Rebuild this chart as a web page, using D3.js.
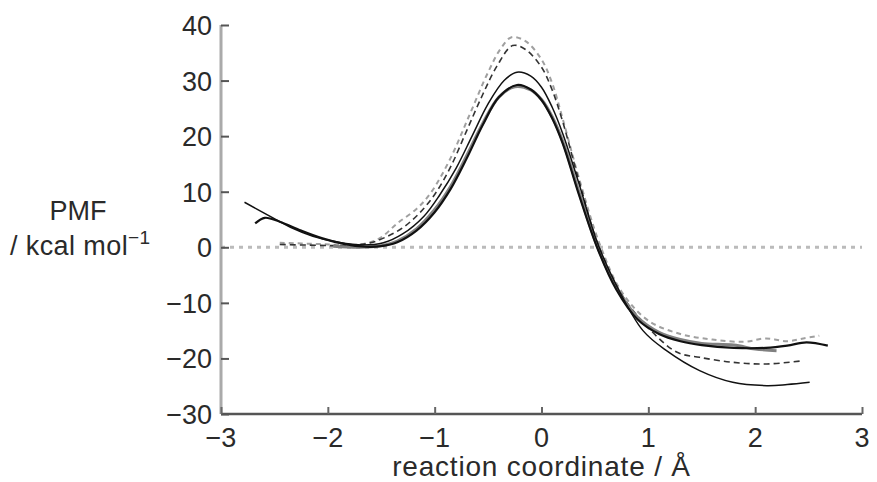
<!DOCTYPE html>
<html>
<head>
<meta charset="utf-8">
<script src="https://cdn.jsdelivr.net/npm/d3@7"></script>
<style>
  body { margin: 0; background: #fff; }
  text { font-family: "Liberation Sans", Arial, sans-serif; fill: #2a2a2a; }
</style>
</head>
<body>
<div id="chart"></div>
<script>
// tick values
const xTicks = [-3, -2, -1, 0, 1, 2, 3];
const yTicks = [-30, -20, -10, 0, 10, 20, 30, 40];

// PMF profiles, [reaction coordinate, PMF]
const grayDash = [[-2.45,0.8],[-2.1,0.6],[-1.8,0.4],[-1.62,0.8],[-1.5,1.8],[-1.35,4.3],[-1.17,6.9],[-1.04,9.7],[-0.86,15.7],[-0.67,24],[-0.5,31.5],[-0.38,35.8],[-0.28,37.8],[-0.15,37.1],[0,33.8],[0.1,29.5],[0.2,23],[0.35,12.5],[0.55,0.3],[0.75,-8],[1.0,-13.2],[1.3,-15.6],[1.6,-16.6],[1.9,-17],[2.1,-16.4],[2.3,-16.9],[2.45,-16.4],[2.6,-15.9]];
const darkDash = [[-2.45,0.5],[-2.2,0.4],[-1.95,0.3],[-1.75,0.4],[-1.6,0.8],[-1.45,1.9],[-1.3,3.5],[-1.15,6],[-1.0,9.5],[-0.85,14.5],[-0.7,21],[-0.55,27.5],[-0.42,32.5],[-0.27,36.3],[-0.15,35.6],[0,32.4],[0.1,28.3],[0.2,22.5],[0.35,12],[0.53,0.5],[0.75,-8.5],[1.0,-14.5],[1.27,-18.9],[1.48,-19.8],[1.79,-20.7],[2.11,-21],[2.45,-20.4]];
const thinSolid = [[-2.78,8.1],[-2.6,6.2],[-2.35,3.6],[-2.14,2.0],[-1.9,0.9],[-1.67,0.4],[-1.48,0.8],[-1.3,2.4],[-1.1,5.6],[-0.95,9.5],[-0.8,14.2],[-0.65,20],[-0.5,25.8],[-0.35,30],[-0.23,31.5],[-0.1,30.8],[0,28.8],[0.1,25.2],[0.2,20.4],[0.35,11.5],[0.52,1],[0.7,-6.8],[0.95,-15],[1.17,-18.6],[1.48,-22.2],[1.79,-24.3],[2.11,-24.9],[2.3,-24.7],[2.51,-24.3]];
const thickGray = [[-1.95,0.2],[-1.7,0.0],[-1.5,0.3],[-1.35,1.1],[-1.17,3.3],[-1.0,6.8],[-0.85,11],[-0.7,16.5],[-0.55,22.3],[-0.4,27],[-0.25,28.9],[-0.1,28.3],[0,26.6],[0.1,23.5],[0.2,19],[0.35,10],[0.52,0.3],[0.7,-7.2],[0.9,-12.6],[1.1,-15.3],[1.3,-16.6],[1.5,-17.3],[1.8,-17.6],[2.0,-18.3],[2.2,-18.6]];
const thickBlack = [[-2.68,4.3],[-2.59,5.3],[-2.45,4.6],[-2.25,3.0],[-2.05,1.6],[-1.85,0.6],[-1.65,0.1],[-1.5,0.2],[-1.35,0.9],[-1.17,3.0],[-1.0,6.3],[-0.85,10.5],[-0.7,16],[-0.55,22],[-0.4,27],[-0.23,29.2],[-0.1,28.4],[0,26.5],[0.1,23.2],[0.2,18.6],[0.35,9.5],[0.52,0],[0.7,-7.6],[0.9,-13],[1.1,-15.6],[1.3,-16.9],[1.5,-17.6],[1.8,-18.1],[2.1,-18.1],[2.3,-17.7],[2.48,-17.1],[2.68,-17.7]];

const width = 877, height = 482;
const x = d3.scaleLinear().domain([-3, 3]).range([221, 862]);
const y = d3.scaleLinear().domain([-30, 40]).range([414, 25]);

const svg = d3.select("#chart").append("svg")
  .attr("width", width)
  .attr("height", height);

/* zero reference line */
svg.append("line")
  .attr("x1", x(-3)).attr("x2", x(3))
  .attr("y1", y(0)).attr("y2", y(0))
  .attr("stroke", "#bbb")
  .attr("stroke-width", 3)
  .attr("stroke-dasharray", "4,5");

/* axes */
const yAxis = svg.append("g")
  .attr("transform", `translate(${x(-3)},0)`)
  .call(d3.axisRight(y).tickValues(yTicks).tickSize(8).tickFormat(""));
yAxis.select(".domain").attr("stroke", "#aaa").attr("stroke-width", 3).attr("d", `M0,${y(40)}V${y(-30)}`);
yAxis.selectAll(".tick line").attr("stroke", "#555").attr("stroke-width", 2);

const xAxis = svg.append("g")
  .attr("transform", `translate(0,${y(-30)})`)
  .call(d3.axisTop(x).tickValues(xTicks).tickSize(7).tickFormat(""));
xAxis.select(".domain").attr("stroke", "#555").attr("stroke-width", 2.5).attr("d", `M${x(-3)},0H${x(3)}`);
xAxis.selectAll(".tick line").attr("stroke", "#666").attr("stroke-width", 2);

const fmt = d => d < 0 ? "\u2212" + Math.abs(d) : String(d);

svg.selectAll(".ylab").data(yTicks).enter().append("text")
  .attr("class", "ylab")
  .attr("x", 212)
  .attr("y", d => y(d) + 10)
  .attr("text-anchor", "end")
  .style("font-size", "27px")
  .text(fmt);

svg.selectAll(".xlab").data(xTicks).enter().append("text")
  .attr("class", "xlab")
  .attr("x", d => x(d))
  .attr("y", 447)
  .attr("text-anchor", "middle")
  .style("font-size", "27px")
  .text(fmt);

svg.append("text")
  .attr("x", x(0))
  .attr("y", 476)
  .attr("text-anchor", "middle")
  .style("font-size", "28px")
  .style("letter-spacing", "0.8px")
  .text("reaction coordinate / \u00c5");

svg.append("text")
  .attr("x", 78)
  .attr("y", 220)
  .attr("text-anchor", "middle")
  .style("font-size", "27px")
  .text("PMF");

const unit = svg.append("text")
  .attr("x", 10)
  .attr("y", 255)
  .style("font-size", "27px")
  .style("letter-spacing", "0.4px");
unit.append("tspan").text("/ kcal mol");
unit.append("tspan").attr("dy", -11).style("font-size", "19px").text("\u22121");

/* curves */
const line = d3.line()
  .x(d => x(d[0]))
  .y(d => y(d[1]))
  .curve(d3.curveCatmullRom.alpha(0.5));

const series = [
  { data: grayDash, color: "#a0a0a0", w: 2, dash: "5,4" },
  { data: darkDash, color: "#333", w: 1.6, dash: "6,4" },
  { data: thickGray, color: "#808080", w: 3, dash: null },
  { data: thinSolid, color: "#111", w: 1.5, dash: null },
  { data: thickBlack, color: "#111", w: 2.2, dash: null }
];

svg.selectAll(".pmf").data(series).enter().append("path")
  .attr("class", "pmf")
  .attr("fill", "none")
  .attr("stroke", d => d.color)
  .attr("stroke-width", d => d.w)
  .attr("stroke-dasharray", d => d.dash)
  .attr("d", d => line(d.data));
</script>
</body>
</html>
